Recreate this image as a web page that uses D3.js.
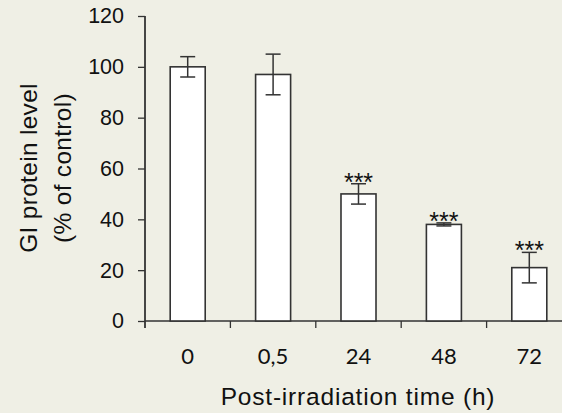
<!DOCTYPE html>
<html>
<head>
<meta charset="utf-8">
<script src="https://cdn.jsdelivr.net/npm/d3@7"></script>
<style>
  body { margin: 0; background: #efefe5; }
  svg { display: block; }
</style>
</head>
<body>
<svg id="chart" width="562" height="413"></svg>
<script>
// time points and GI protein level (% of control)
const times = ['0', '0,5', '24', '48', '72'];
const levels = [100, 97, 50, 38, 21];
const errors = [4, 8, 4, 0.6, 6];
const stars = ['', '', '***', '***', '***'];
const yTicks = [0, 20, 40, 60, 80, 100, 120];

const svg = d3.select('#chart');
const ink = '#333';

// scales
const x = d3.scaleBand()
    .domain(times)
    .range([145, 572])
    .paddingInner(0.59)
    .paddingOuter(0.295);

const y = d3.scaleLinear()
    .domain([0, 120])
    .range([321, 16]);

// y axis
const yAxis = svg.append('g')
    .attr('transform', 'translate(145,0)')
    .call(d3.axisLeft(y).tickValues(yTicks).tickSize(7).tickPadding(14));
yAxis.select('.domain').remove();
yAxis.selectAll('line').attr('stroke', ink).attr('stroke-width', 1.3);
yAxis.selectAll('text')
    .attr('fill', '#111')
    .style('font-family', 'Liberation Sans, Arial, sans-serif')
    .style('font-size', '21.5px');

svg.append('line')
    .attr('x1', 145).attr('x2', 145)
    .attr('y1', y(120)).attr('y2', y(0) + 7)
    .attr('stroke', ink).attr('stroke-width', 1.8);

// x axis (labels only, boundary ticks drawn below)
const xAxis = svg.append('g')
    .attr('transform', 'translate(0,' + y(0) + ')')
    .call(d3.axisBottom(x).tickSize(0).tickPadding(27));
xAxis.select('.domain').remove();
xAxis.selectAll('text')
    .attr('fill', '#111')
    .style('font-family', 'Lato, sans-serif')
    .style('font-size', '22px');

svg.append('line')
    .attr('x1', 145).attr('x2', 562)
    .attr('y1', y(0)).attr('y2', y(0))
    .attr('stroke', ink).attr('stroke-width', 1.5);

svg.selectAll('.bound')
    .data(times.slice(1))
    .enter().append('line')
    .attr('class', 'bound')
    .attr('x1', d => x(d) - x.step() * 0.295)
    .attr('x2', d => x(d) - x.step() * 0.295)
    .attr('y1', y(0))
    .attr('y2', y(0) + 7)
    .attr('stroke', ink).attr('stroke-width', 1.3);

// bars
svg.selectAll('.bar')
    .data(times)
    .enter().append('rect')
    .attr('class', 'bar')
    .attr('x', d => x(d))
    .attr('y', (d, i) => y(levels[i]))
    .attr('width', x.bandwidth())
    .attr('height', (d, i) => y(0) - y(levels[i]))
    .attr('fill', '#fff')
    .attr('stroke', ink)
    .attr('stroke-width', 1.6);

// error bars
const err = svg.selectAll('.err')
    .data(times)
    .enter().append('g')
    .attr('class', 'err')
    .attr('stroke', ink)
    .attr('stroke-width', 1.5);

err.append('line')
    .attr('x1', d => x(d) + x.bandwidth() / 2)
    .attr('x2', d => x(d) + x.bandwidth() / 2)
    .attr('y1', (d, i) => y(levels[i] + errors[i]))
    .attr('y2', (d, i) => y(levels[i] - errors[i]));

[1, -1].forEach(s => {
    err.append('line')
        .attr('x1', d => x(d) + x.bandwidth() / 2 - 7.5)
        .attr('x2', d => x(d) + x.bandwidth() / 2 + 7.5)
        .attr('y1', (d, i) => y(levels[i] + s * errors[i]))
        .attr('y2', (d, i) => y(levels[i] + s * errors[i]));
});

// significance stars
svg.selectAll('.star')
    .data(times)
    .enter().append('text')
    .attr('class', 'star')
    .attr('x', d => x(d) + x.bandwidth() / 2)
    .attr('y', (d, i) => y(levels[i] + errors[i]) + 7)
    .attr('text-anchor', 'middle')
    .attr('fill', '#111')
    .style('font-family', 'Liberation Sans, Arial, sans-serif')
    .style('font-size', '25px')
    .text((d, i) => stars[i]);

// axis titles
svg.append('text')
    .attr('x', 358)
    .attr('y', 405)
    .attr('text-anchor', 'middle')
    .attr('fill', '#111')
    .style('font-family', 'Liberation Sans, Arial, sans-serif')
    .style('font-size', '24.5px')
    .style('letter-spacing', '0.8px')
    .text('Post-irradiation time (h)');

const yTitle = svg.append('text')
    .attr('transform', 'translate(0,168) rotate(-90)')
    .attr('text-anchor', 'middle')
    .attr('fill', '#111')
    .style('font-family', 'Liberation Sans, Arial, sans-serif')
    .style('font-size', '24.5px')
    .style('letter-spacing', '0.3px');
yTitle.append('tspan').attr('x', 0).attr('y', 37).text('GI protein level');
yTitle.append('tspan').attr('x', 0).attr('y', 71).text('(% of control)');
</script>
</body>
</html>
